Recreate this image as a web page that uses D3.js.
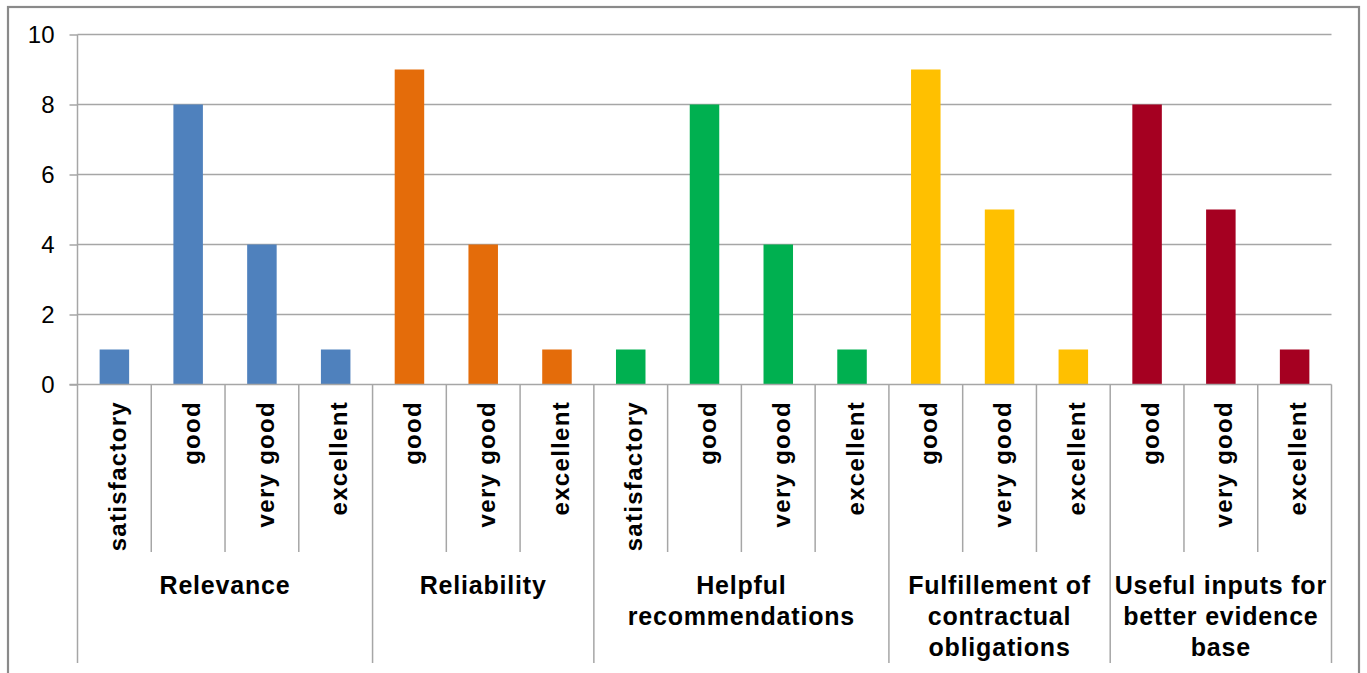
<!DOCTYPE html>
<html>
<head>
<meta charset="utf-8">
<script src="https://cdn.jsdelivr.net/npm/d3@7"></script>
<style>
  html, body { margin: 0; padding: 0; background: #fff; }
  svg { display: block; font-family: "Liberation Sans", Arial, sans-serif; }
</style>
</head>
<body>
<svg id="chart" width="1367" height="673"></svg>
<script>
// ---- data ----
const groups = ["Relevance", "Reliability", "Helpful recommendations", "Fulfillement of contractual obligations", "Useful inputs for better evidence base"];
const groupLines = [["Relevance"], ["Reliability"], ["Helpful", "recommendations"], ["Fulfillement of", "contractual", "obligations"], ["Useful inputs for", "better evidence", "base"]];
const groupColors = ["#4f81bd", "#e46c0a", "#00b050", "#ffc000", "#a50021"];
const relevanceCats = ["satisfactory", "good", "very good", "excellent"];
const relevanceVals = [1, 8, 4, 1];
const reliabilityCats = ["good", "very good", "excellent"];
const reliabilityVals = [9, 4, 1];
const helpfulCats = ["satisfactory", "good", "very good", "excellent"];
const helpfulVals = [1, 8, 4, 1];
const fulfillCats = ["good", "very good", "excellent"];
const fulfillVals = [9, 5, 1];
const usefulCats = ["good", "very good", "excellent"];
const usefulVals = [8, 5, 1];
const yTicks = [0, 2, 4, 6, 8, 10];

(function () {
const groupCats = [relevanceCats, reliabilityCats, helpfulCats, fulfillCats, usefulCats];
const groupVals = [relevanceVals, reliabilityVals, helpfulVals, fulfillVals, usefulVals];

// flatten
const rows = [];
groupCats.forEach((cats, g) => cats.forEach((c, i) => rows.push({ g, cat: c, val: groupVals[g][i], first: i === 0, idx: rows.length })));

// ---- layout ----
const svg = d3.select("#chart");
const pLeft = 77.5, pRight = 1331.5, pTop = 34.5, zeroY = 384.5;
const innerBottom = 552, groupBottom = 663;

svg.append("rect").attr("x", 8).attr("y", 7).attr("width", 1351).attr("height", 720)
  .attr("fill", "#fff").attr("stroke", "#8a8a8a").attr("stroke-width", 2.2);

const x = d3.scaleBand().domain(rows.map(r => r.idx)).range([pLeft, pRight]).paddingInner(0).paddingOuter(0);
const xb = d3.scaleBand().domain(rows.map(r => r.idx)).range([pLeft, pRight]).paddingInner(0.6).paddingOuter(0.3);
const y = d3.scaleLinear().domain([0, 10]).range([zeroY, pTop]);

// gridlines
svg.append("g").selectAll("line").data(yTicks.filter(t => t > 0)).join("line")
  .attr("x1", pLeft).attr("x2", pRight)
  .attr("y1", d => y(d)).attr("y2", d => y(d))
  .attr("stroke", "#a6a6a6").attr("stroke-width", 1.5);

// y axis
const yAxis = d3.axisLeft(y).tickValues(yTicks).tickSize(8).tickPadding(15).tickFormat(d3.format("d"));
const ya = svg.append("g").attr("transform", `translate(${pLeft},0)`).call(yAxis);
ya.select(".domain").remove();
ya.selectAll(".tick line").attr("stroke", "#a6a6a6").attr("stroke-width", 1.5);
ya.selectAll(".tick text").attr("font-size", 24).attr("fill", "#000").attr("font-family", "Liberation Sans, Arial, sans-serif");

// bars
svg.append("g").selectAll("rect").data(rows).join("rect")
  .attr("x", d => xb(d.idx)).attr("width", xb.bandwidth())
  .attr("y", d => y(d.val)).attr("height", d => y(0) - y(d.val))
  .attr("fill", d => groupColors[d.g]);

// axis lines
const axisColor = "#a6a6a6";
svg.append("line").attr("x1", pLeft).attr("x2", pLeft).attr("y1", pTop).attr("y2", groupBottom).attr("stroke", axisColor).attr("stroke-width", 1.5);
svg.append("line").attr("x1", pLeft - 8).attr("x2", pRight).attr("y1", zeroY).attr("y2", zeroY).attr("stroke", axisColor).attr("stroke-width", 1.5);

// category separators
svg.append("g").selectAll("line").data(rows.filter(r => r.idx > 0)).join("line")
  .attr("x1", d => x(d.idx)).attr("x2", d => x(d.idx))
  .attr("y1", zeroY).attr("y2", d => d.first ? groupBottom : innerBottom)
  .attr("stroke", axisColor).attr("stroke-width", 1.5);
svg.append("line").attr("x1", pRight).attr("x2", pRight).attr("y1", zeroY).attr("y2", groupBottom).attr("stroke", axisColor).attr("stroke-width", 1.5);

// category labels
svg.append("g").selectAll("text").data(rows).join("text")
  .attr("transform", d => `translate(${x(d.idx) + x.bandwidth() / 2 + 3},401) rotate(-90)`)
  .attr("text-anchor", "end").attr("dy", "0.36em")
  .attr("font-size", 24).attr("font-weight", "bold").attr("letter-spacing", 1.3)
  .attr("fill", "#000").text(d => d.cat);

// group labels
const groupInfo = groups.map((name, g) => {
  const rs = rows.filter(r => r.g === g);
  const x0 = x(rs[0].idx), x1 = x(rs[rs.length - 1].idx) + x.bandwidth();
  return { g, cx: (x0 + x1) / 2, lines: groupLines[g] };
});
const gl = svg.append("g").selectAll("text").data(groupInfo).join("text")
  .attr("text-anchor", "middle").attr("font-size", 25).attr("font-weight", "bold")
  .attr("letter-spacing", 0.8).attr("fill", "#000");
gl.selectAll("tspan").data(d => d.lines.map(l => ({ l, cx: d.cx }))).join("tspan")
  .attr("x", d => d.cx).attr("y", (d, i) => 594 + i * 31).text(d => d.l);
})();
</script>
</body>
</html>
